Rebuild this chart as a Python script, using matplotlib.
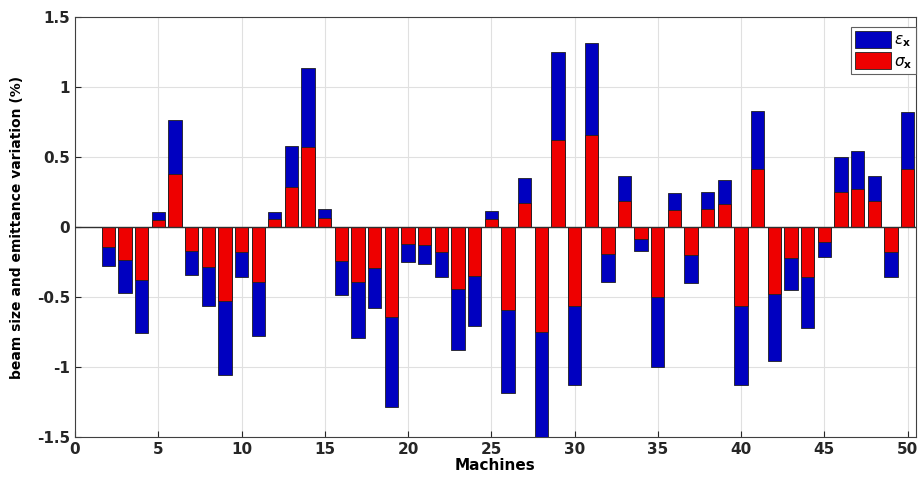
import matplotlib.pyplot as plt

# emittance variation per machine (%), beam size variation is half of it
machines = list(range(2, 51))
eps_x = [-0.28, -0.47, -0.755, 0.107, 0.764, -0.34, -0.567, -1.057, -0.355, -0.781,
         0.11, 0.576, 1.138, 0.126, -0.486, -0.79, -0.579, -1.283, -0.248, -0.262,
         -0.36, -0.881, -0.707, 0.114, -1.183, 0.348, -1.5, 1.248, -1.129, 1.317,
         -0.39, 0.367, -0.171, -0.998, 0.24, -0.4, 0.252, 0.333, -1.129, 0.829,
         -0.96, -0.448, -0.721, -0.217, 0.502, 0.543, 0.367, -0.355, 0.824]
sig_x = [e / 2 for e in eps_x]

yticks = [-1.5, -1, -0.5, 0, 0.5, 1, 1.5]
ytick_labels = ['-1.5', '-1', '-0.5', '0', '0.5', '1', '1.5']
xticks = [0, 5, 10, 15, 20, 25, 30, 35, 40, 45, 50]

plt.rcParams['font.family'] = 'DejaVu Sans'
plt.rcParams['mathtext.fontset'] = 'dejavusans'

fig = plt.figure(figsize=(9.18, 4.84), dpi=100)
ax = fig.add_axes([0.0817, 0.097, 0.916, 0.868])

ax.bar(machines, eps_x, width=0.8, color='#0000c0', edgecolor='#202020',
       linewidth=0.6, label=r'$\epsilon_{\mathbf{x}}$', zorder=3)
ax.bar(machines, sig_x, width=0.8, color='#ee0000', edgecolor='#202020',
       linewidth=0.6, label=r'$\sigma_{\mathbf{x}}$', zorder=4)
ax.axhline(0, color='#303030', linewidth=1.0, zorder=5)

ax.set_xlim(0, 50.5)
ax.set_ylim(-1.5, 1.5)
ax.set_xticks(xticks)
ax.set_yticks(yticks)
ax.set_yticklabels(ytick_labels)
ax.tick_params(labelsize=11, direction='in', length=4, colors='#262626')
for lbl in ax.get_xticklabels() + ax.get_yticklabels():
    lbl.set_fontweight('bold')
ax.grid(True, color='#e0e0e0', linewidth=0.8, zorder=0)
for s in ax.spines.values():
    s.set_color('#404040')
    s.set_linewidth(0.8)

ax.set_xlabel('Machines', fontsize=11, fontweight='bold', labelpad=1)
ax.set_ylabel('beam size and emittance variation (%)', fontsize=10,
              fontweight='bold', labelpad=9)

leg = ax.legend(loc='upper right', fontsize=11, handlelength=2.4, handleheight=1.3,
                borderpad=0.25, labelspacing=0.2, handletextpad=0.15,
                fancybox=False, framealpha=1, borderaxespad=0.0,
                bbox_to_anchor=(1.0, 0.975))
leg.get_frame().set_edgecolor('#606060')
leg.get_frame().set_linewidth(0.8)

fig.savefig('out.png', dpi=100)
